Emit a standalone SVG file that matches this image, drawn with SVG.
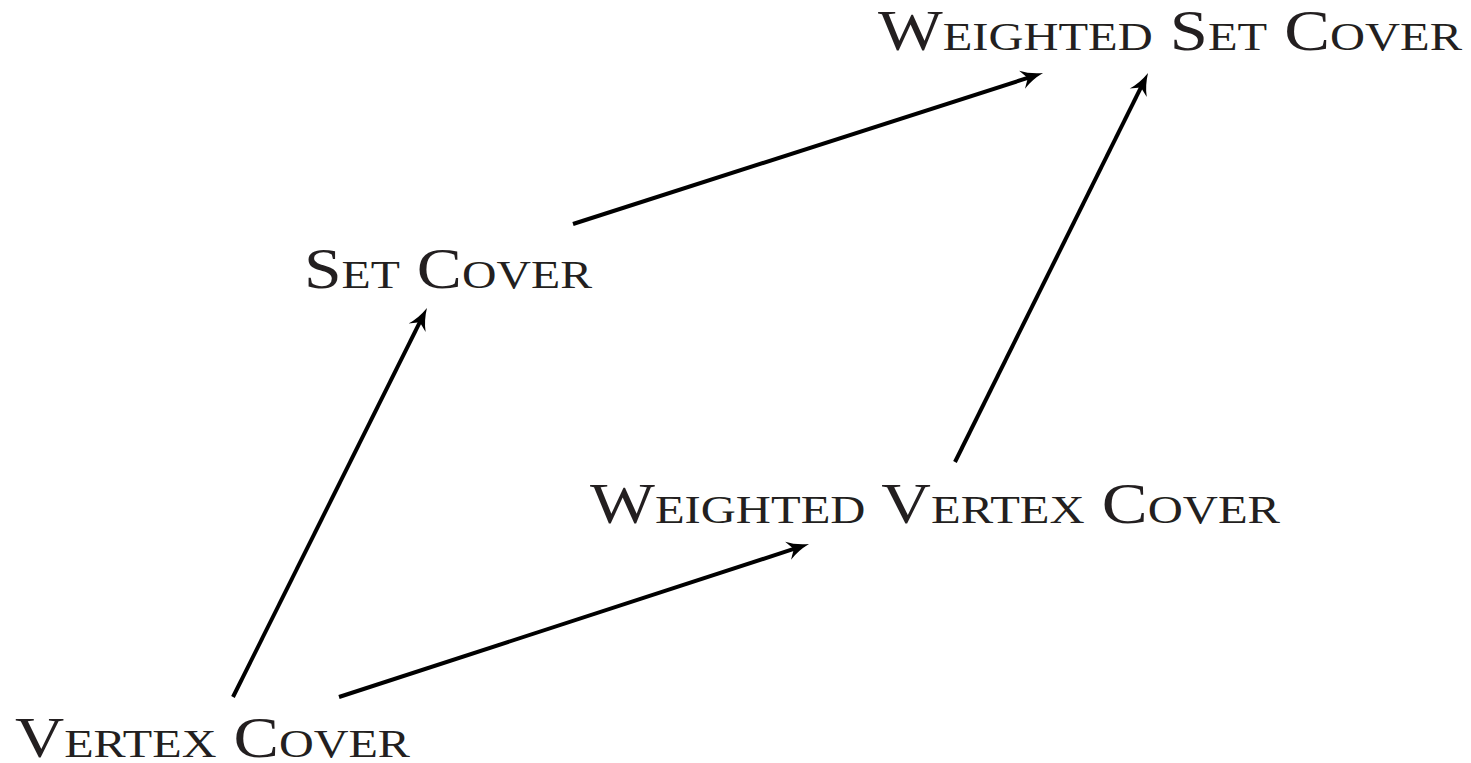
<svg xmlns="http://www.w3.org/2000/svg" width="1471" height="763" viewBox="0 0 1471 763">
<style>
.lbl{font-family:"Liberation Serif","Times New Roman",serif;font-size:58px;font-variant:small-caps;fill:#231f20}
.edge{stroke:#000;stroke-width:4;fill:none;marker-end:url(#arr)}
</style>
<defs>
<marker id="arr" markerUnits="userSpaceOnUse" viewBox="-12 -11 26 22" markerWidth="26" markerHeight="22" refX="0" refY="0" orient="auto" overflow="visible">
<path d="M12,0 Q-1,-3 -10,-9.5 L-4,0 L-10,9.5 Q-1,3 12,0 Z" fill="#000"/>
</marker>
</defs>
<rect width="1471" height="763" fill="#fff"/>
<g id="connectors">
<path class="edge" d="M233,697 L421.6,318.7"/>
<path class="edge" d="M339,697 L797.6,547.7"/>
<path class="edge" d="M573,224 L1031.6,76.7"/>
<path class="edge" d="M955,462 L1142.7,83.8"/>
</g>
<g id="weighted-set-cover"><text class="lbl" x="878" y="50" textLength="584" lengthAdjust="spacingAndGlyphs">Weighted Set Cover</text></g>
<g id="set-cover"><text class="lbl" x="304" y="288" textLength="288" lengthAdjust="spacingAndGlyphs">Set Cover</text></g>
<g id="weighted-vertex-cover"><text class="lbl" x="590" y="523" textLength="690" lengthAdjust="spacingAndGlyphs">Weighted Vertex Cover</text></g>
<g id="vertex-cover"><text class="lbl" x="15" y="757" textLength="395" lengthAdjust="spacingAndGlyphs">Vertex Cover</text></g>
</svg>
